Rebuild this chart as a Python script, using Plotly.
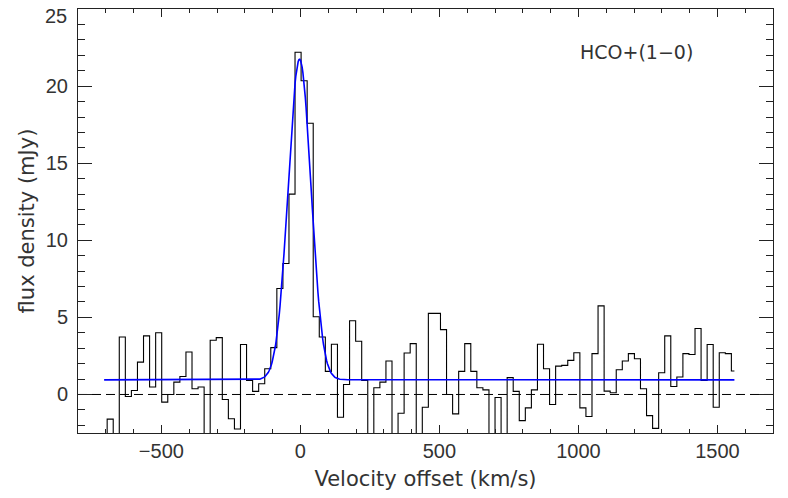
import numpy as np
import plotly.graph_objects as go

# spectrum channels (km/s)
V0 = -706.0
DV = 21.8

# flux density per channel (mJy); values below the frame are clipped
flux = [-3.5, -1.6, -3.3, 3.73, -0.13, 0.26, 2.1, 3.8, 0.48, 4.0,
        -0.5, 0.0, 0.8, 1.17, 2.76, 0.37, 0.48, -3.6, 3.52, 3.69,
        -0.33, -1.58, -2.24, 3.24, 0.91, 0.2, 0.7, 1.67, 3.04, 6.88,
        8.5, 13.0, 22.2, 20.35, 17.6, 5.04, 3.73, 1.5, 3.26, -1.48,
        0.65, 4.78, 3.45, 0.91, -3.2, 0.44, 0.8, 2.17, -3.4, -1.22,
        2.69, 3.3, -3.0, -0.83, 5.26, 5.26, 4.21, 0.0, -1.26, 1.5,
        3.3, 1.5, 0.44, 0.3, -3.5, -0.2, -3.3, 1.09, 0.2, -1.7,
        -0.87, 0.3, 3.26, 1.67, -0.65, 1.84, 1.89, 2.21, 2.71, -0.87,
        -1.43, 2.65, 5.75, 0.22, 0.11, 1.6, 2.17, 2.65, 2.32, 0.37,
        -1.37, -2.2, 1.41, 3.8, 0.52, 1.13, 2.65, 2.59, 4.28, 0.91,
        3.24, -0.83, 2.71, 2.65, 1.52]

vel = V0 + DV * np.arange(len(flux))

# y tick labels; the top one is drawn as an annotation so it stays inside the page
ytick_vals = [0, 5, 10, 15, 20, 25]
ytick_text = ['0', '5', '10', '15', '20', '']

# gaussian fit parameters
cont = 0.95
amp = 20.8
vcen = -3.0
sigma = 41.0

vfit = np.linspace(vel[0], vel[-1], 800)
ffit = cont + amp * np.exp(-0.5 * ((vfit - vcen) / sigma) ** 2)

TXT = '#333333'

fig = go.Figure()

fig.add_trace(go.Scatter(x=[-800, 1700], y=[0, 0], mode='lines',
                         line=dict(color='black', width=1, dash='9px,5px'),
                         hoverinfo='skip'))

fig.add_trace(go.Scatter(x=vel, y=flux, mode='lines',
                         line=dict(color='black', width=1.1, shape='hvh')))

fig.add_trace(go.Scatter(x=vfit, y=ffit, mode='lines',
                         line=dict(color='#0000ff', width=1.6)))

fig.add_annotation(x=1208, y=22.2, xref='x', yref='y', text='HCO+(1\u22120)',
                   showarrow=False, font=dict(family='DejaVu Sans', size=19, color=TXT))

axis_font = dict(family='Liberation Sans', size=20, color=TXT)

# top y label, nudged down like the original
fig.add_annotation(x=-800, y=25, xref='x', yref='y', text='25', showarrow=False,
                   xanchor='right', yanchor='middle', xshift=-9, yshift=-7,
                   font=axis_font)

fig.update_layout(
    width=788, height=498,
    margin=dict(l=78, r=15, t=9, b=65),
    paper_bgcolor='white', plot_bgcolor='white',
    showlegend=False,
)

fig.update_xaxes(
    range=[-800, 1700], dtick=500, tick0=0,
    ticks='inside', ticklen=8, tickwidth=1, tickcolor='#222',
    minor=dict(dtick=100, ticks='inside', ticklen=4, tickwidth=1, tickcolor='#222'),
    showline=True, linecolor='#222', linewidth=1, mirror='allticks',
    showgrid=False, zeroline=False, automargin=False,
    tickfont=axis_font,
    title=dict(text='Velocity offset (km/s)', standoff=10,
               font=dict(family='DejaVu Sans', size=21, color=TXT)),
)

fig.update_yaxes(
    range=[-2.5, 25.01], tickvals=ytick_vals, ticktext=ytick_text,
    ticks='inside', ticklen=14, tickwidth=1, tickcolor='#222',
    minor=dict(dtick=1, ticks='inside', ticklen=7, tickwidth=1, tickcolor='#222'),
    showline=True, linecolor='#222', linewidth=1, mirror='allticks',
    showgrid=False, zeroline=False, automargin=False,
    tickfont=axis_font, ticklabelstandoff=5,
    title=dict(text='flux density (mJy)', standoff=5,
               font=dict(family='DejaVu Sans', size=21, color=TXT)),
)

# drop the default page margin so the figure sits at the window corner
fig.write_html("out.html", config={'displayModeBar': False},
               post_script="document.body.style.margin='0px';")
